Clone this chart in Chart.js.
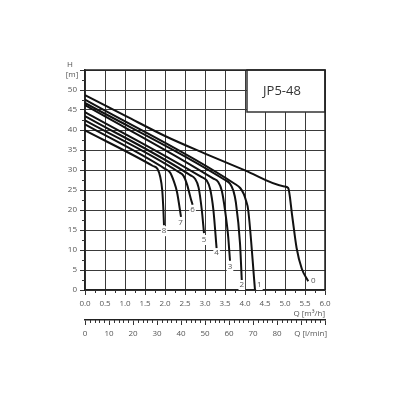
<!DOCTYPE html>
<html>
<head>
<meta charset="utf-8">
<script src="https://cdn.jsdelivr.net/npm/chart.js"></script>
<style>
  body { margin: 0; background: #fff; }
</style>
</head>
<body>
<canvas id="pumpChart" width="400" height="400"></canvas>
<script>
// JP5-48 pump curves: [Q m3/h, H m]
const curve0 = [[0, 48.7], [1, 43.6], [2, 38.5], [3, 34.1], [4, 29.9], [4.98, 25.9], [5.08, 25.5], [5.18, 18.5], [5.29, 10.5], [5.42, 5.3], [5.58, 2.2]];
const curve1 = [[0, 47.6], [3.75, 26.5], [3.88, 25.5], [3.97, 24.0], [4.02, 22.5], [4.08, 20], [4.25, 0]];
const curve2 = [[0, 46.75], [3.5, 27.5], [3.625, 26.6], [3.71, 24.8], [3.77, 22], [3.875, 11.7], [3.92, 2.3]];
const curve3 = [[0, 46.2], [3.2, 27.9], [3.33, 27.0], [3.42, 24.8], [3.5, 20], [3.58, 13.3], [3.625, 7.3]];
const curve4 = [[0, 44.5], [2.92, 28.2], [3.04, 27.4], [3.13, 25.2], [3.21, 20], [3.29, 10.4]];
const curve5 = [[0, 43.5], [2.63, 28.7], [2.75, 27.8], [2.84, 25.6], [2.92, 20], [2.975, 14.2]];
const curve6 = [[0, 42.4], [2.34, 29.5], [2.46, 28.6], [2.55, 26.4], [2.64, 23], [2.69, 21.3]];
const curve7 = [[0, 41.4], [2.0, 30.3], [2.125, 29.4], [2.22, 27.2], [2.3, 24.5], [2.4, 18.3]];
const curve8 = [[0, 39.9], [1.7, 31.0], [1.81, 30.3], [1.88, 28.3], [1.93, 25], [1.96, 20], [1.975, 16.2]];
const curves = [curve0, curve1, curve2, curve3, curve4, curve5, curve6, curve7, curve8];

// curve numbers and where they sit
const curveNames = ['0', '1', '2', '3', '4', '5', '6', '7', '8'];
const nameQ = [5.71, 4.36, 3.92, 3.625, 3.29, 2.975, 2.69, 2.39, 1.975];
const nameH = [2.3, 1.25, 1.25, 5.7, 9.2, 12.5, 20.0, 16.7, 14.7];

// l/min axis labels (90 is replaced by the title)
const lpmLabels = [0, 10, 20, 30, 40, 50, 60, 70, 80];

const modelName = 'JP5-48';
const boxQ = 4.05, boxH = 44.5;

Chart.defaults.font.family = "'Open Sans', sans-serif";
Chart.defaults.font.size = 8;
Chart.defaults.color = '#555';

const extras = {
  id: 'extras',
  beforeDatasetsDraw(chart) {
    const {ctx, chartArea: a, scales: {x, y}} = chart;
    const bx = x.getPixelForValue(boxQ), by = y.getPixelForValue(boxH);
    ctx.save();
    ctx.fillStyle = '#fff';
    ctx.fillRect(bx, a.top, a.right - bx, by - a.top);
    ctx.strokeStyle = '#333';
    ctx.lineWidth = 1.5;
    ctx.strokeRect(bx, a.top, a.right - bx, by - a.top);
    ctx.fillStyle = '#333';
    ctx.font = "13px 'Open Sans', sans-serif";
    ctx.textAlign = 'center';
    ctx.textBaseline = 'middle';
    ctx.fillText(modelName, (bx + a.right) / 2 - 4, (a.top + by) / 2);
    // frame top/right
    ctx.strokeStyle = '#222';
    ctx.beginPath();
    ctx.moveTo(a.left, a.top); ctx.lineTo(a.right, a.top); ctx.lineTo(a.right, a.bottom);
    ctx.stroke();
    ctx.restore();
  },
  afterDraw(chart) {
    const {ctx, chartArea: a, scales: {x, x2, y}} = chart;
    ctx.save();
    // minor ticks
    ctx.strokeStyle = '#333';
    ctx.lineWidth = 1;
    ctx.beginPath();
    for (let v = 2.5; v < 55; v += 5) {
      const py = Math.round(y.getPixelForValue(v)) + 0.5;
      ctx.moveTo(a.left - 3, py); ctx.lineTo(a.left, py);
    }
    for (let v = 0.25; v < 6; v += 0.5) {
      const px = Math.round(x.getPixelForValue(v)) + 0.5;
      ctx.moveTo(px, a.bottom); ctx.lineTo(px, a.bottom + 3);
    }
    for (let v = 2; v < 100; v += 2) {
      if (v % 10 === 0) continue;
      const px = Math.round(x2.getPixelForValue(v)) + 0.5;
      ctx.moveTo(px, x2.top); ctx.lineTo(px, x2.top + 3);
    }
    ctx.stroke();

    // curve numbers
    ctx.font = "8px 'Open Sans', sans-serif";
    ctx.textAlign = 'center';
    ctx.textBaseline = 'middle';
    curveNames.forEach((n, i) => {
      const px = x.getPixelForValue(nameQ[i]), py = y.getPixelForValue(nameH[i]);
      const w = ctx.measureText(n).width;
      ctx.fillStyle = '#fff';
      ctx.fillRect(px - w / 2 - 1, py - 5, w + 2, 10);
      ctx.fillStyle = '#555';
      ctx.fillText(n, px, py);
    });

    // axis titles
    ctx.fillStyle = '#555';
    ctx.fillText('H', y.right - 15, a.top - 5);
    ctx.fillText('[m]', y.right - 13, a.top + 5);
    ctx.textAlign = 'right';
    ctx.fillText('Q [l/min]', a.right + 2, x2.top + 14);
    ctx.restore();
  }
};

new Chart(document.getElementById('pumpChart'), {
  type: 'line',
  data: {
    datasets: curves.map((c, i) => ({
      label: curveNames[i],
      data: c.map(p => ({x: p[0], y: p[1]})),
      borderColor: '#111',
      borderWidth: 2,
      pointRadius: 0,
      fill: false,
      cubicInterpolationMode: 'monotone'
    }))
  },
  options: {
    responsive: false,
    animation: false,
    layout: { padding: { top: 70, right: 75, left: 0, bottom: 0 } },
    plugins: { legend: { display: false }, tooltip: { enabled: false } },
    scales: {
      x: {
        type: 'linear', position: 'bottom', weight: 0,
        min: 0, max: 6,
        ticks: { stepSize: 0.5, autoSkip: false, maxRotation: 0, padding: 4,
          callback: v => v.toFixed(1) },
        grid: { color: '#3a3a3a', lineWidth: 1, tickLength: 5, tickColor: '#333' },
        border: { color: '#222', width: 1.5 },
        title: { display: true, text: 'Q [m³/h]', align: 'end', padding: { top: 0, bottom: 1 } },
        afterFit: s => { s.height = 30; }
      },
      x2: {
        type: 'linear', position: 'bottom', weight: 1,
        min: 0, max: 100,
        ticks: { stepSize: 10, autoSkip: false, maxRotation: 0, padding: 4,
          callback: v => lpmLabels.includes(v) ? String(v) : '' },
        grid: { drawOnChartArea: false, tickLength: 5, color: '#333' },
        border: { color: '#222', width: 1.5 },
        afterFit: s => { s.height = 80; }
      },
      y: {
        type: 'linear', min: 0, max: 55,
        ticks: { stepSize: 5, padding: 3, callback: v => v === 55 ? '' : String(v) },
        grid: { color: '#3a3a3a', lineWidth: 1, tickLength: 5, tickColor: '#333' },
        border: { color: '#222', width: 1.5 },
        afterFit: s => { s.width = 85; }
      }
    }
  },
  plugins: [extras]
});
</script>
</body>
</html>
